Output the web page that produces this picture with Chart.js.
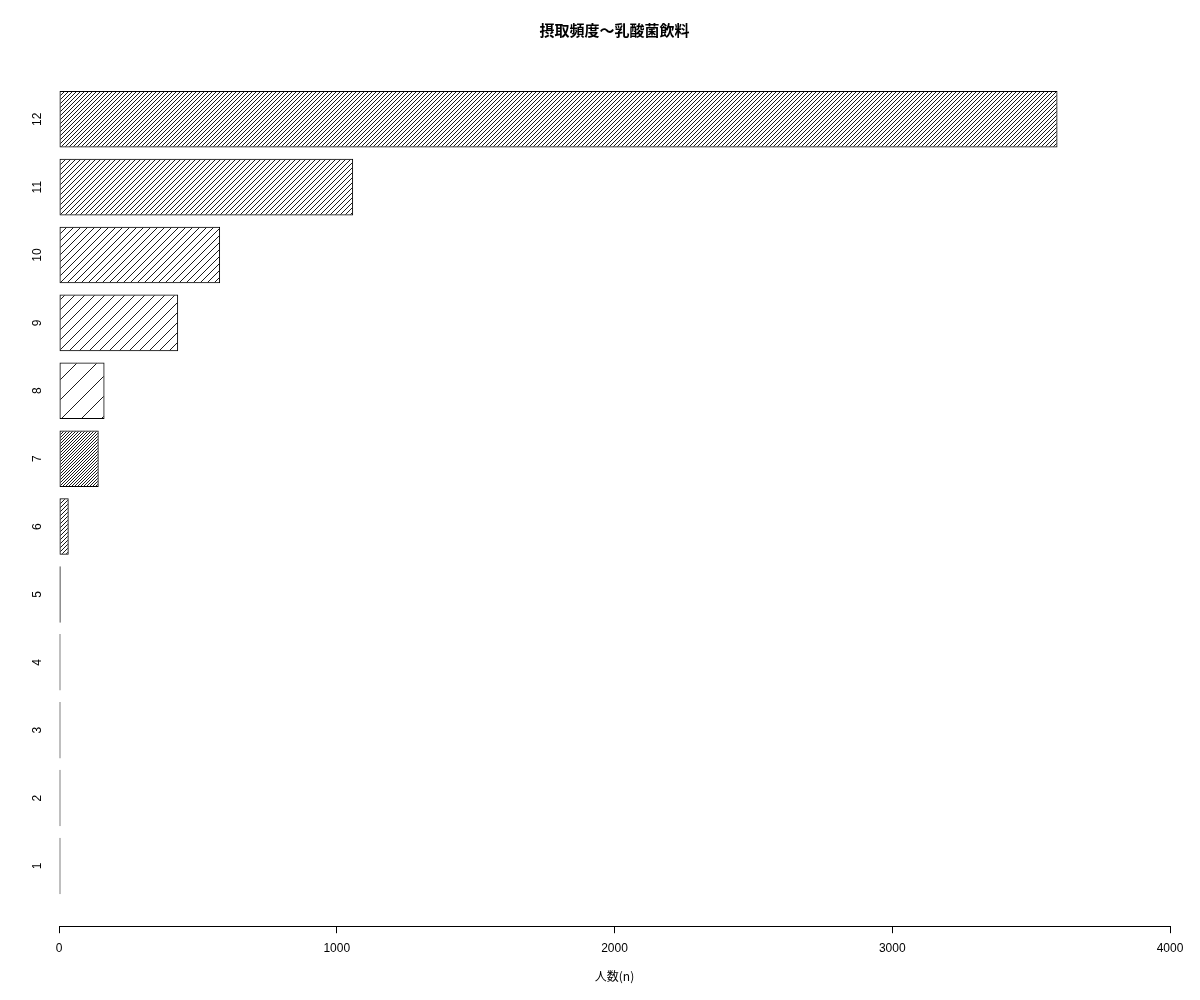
<!DOCTYPE html>
<html>
<head>
<meta charset="utf-8">
<script src="https://cdn.jsdelivr.net/npm/chart.js@4.4.1/dist/chart.umd.min.js"></script>
<style>
  html, body { margin: 0; padding: 0; background: #fff; }
  #wrap { width: 1200px; height: 1000px; }
</style>
</head>
<body>
<div id="wrap"><canvas id="chart" width="1200" height="1000"></canvas></div>
<script>
// 摂取頻度カテゴリ (1..12) と人数
const categories = ['1', '2', '3', '4', '5', '6', '7', '8', '9', '10', '11', '12'];
const counts = [1, 1, 2, 4, 6, 35, 143, 164, 429, 580, 1059, 3595];
const xTicks = [0, 1000, 2000, 3000, 4000];

// hatch spacing (px) per bar, like R's density argument
const hatchSpacing = [3, 3, 3, 3, 3, 4, 3, 20, 10, 7, 5, 4];

function makeHatch(s) {
    const c = document.createElement('canvas');
    c.width = s;
    c.height = s;
    const g = c.getContext('2d');
    g.strokeStyle = '#000';
    g.lineWidth = 0.9;
    g.beginPath();
    g.moveTo(-1, s + 1);
    g.lineTo(s + 1, -1);
    g.moveTo(-1, 1);
    g.lineTo(1, -1);
    g.moveTo(s - 1, s + 1);
    g.lineTo(s + 1, s - 1);
    g.stroke();
    return document.getElementById('chart').getContext('2d').createPattern(c, 'repeat');
}

const yLabelPlugin = {
    id: 'yLabels',
    afterDraw(chart) {
        const ctx = chart.ctx;
        const y = chart.scales.y;
        ctx.save();
        ctx.fillStyle = '#000';
        ctx.font = '12px "Liberation Sans", Arial, sans-serif';
        ctx.textAlign = 'center';
        ctx.textBaseline = 'middle';
        categories.forEach((lab, i) => {
            ctx.save();
            ctx.translate(38, y.getPixelForValue(i + 1));
            ctx.rotate(-Math.PI / 2);
            ctx.fillText(lab, 0, 0);
            ctx.restore();
        });
        ctx.restore();
    }
};

new Chart(document.getElementById('chart'), {
    type: 'bar',
    data: {
        datasets: [{
            data: counts.map((v, i) => ({ x: v, y: i + 1 })),
            backgroundColor: hatchSpacing.map(makeHatch),
            borderColor: '#000',
            borderWidth: 1,
            borderSkipped: false,
            minBarLength: 1.5,
            barPercentage: 1 / 1.2,
            categoryPercentage: 1
        }]
    },
    options: {
        indexAxis: 'y',
        responsive: false,
        animation: false,
        layout: {
            padding: { left: 59, right: 30, top: 0, bottom: 12 }
        },
        plugins: {
            legend: { display: false },
            tooltip: { enabled: false },
            title: {
                display: true,
                text: '摂取頻度〜乳酸菌飲料',
                color: '#000',
                font: { family: '"Noto Sans CJK JP", sans-serif', size: 15, weight: 'bold' },
                padding: { top: 21, bottom: 20 }
            }
        },
        scales: {
            y: {
                type: 'linear',
                display: false,
                offset: false,
                grace: 0,
                min: 0.112,
                max: 12.888,
                afterBuildTicks: axis => {
                    axis.ticks = categories.map((c, i) => ({ value: i + 1 }));
                }
            },
            x: {
                type: 'linear',
                min: 0,
                max: 4000,
                afterBuildTicks: axis => {
                    axis.ticks = xTicks.map(v => ({ value: v }));
                },
                border: { display: true, color: '#000', width: 1 },
                grid: {
                    display: true,
                    drawOnChartArea: false,
                    drawTicks: true,
                    tickLength: 7,
                    color: '#000'
                },
                ticks: {
                    color: '#000',
                    padding: 8,
                    maxRotation: 0,
                    callback: v => String(v),
                    font: { family: '"Liberation Sans", Arial, sans-serif', size: 12 }
                },
                title: {
                    display: true,
                    text: '人数(n)',
                    color: '#000',
                    padding: { top: 6, bottom: 4 },
                    font: { family: '"Noto Sans CJK JP", "Liberation Sans", sans-serif', size: 12 }
                }
            }
        }
    },
    plugins: [yLabelPlugin]
});
</script>
</body>
</html>
